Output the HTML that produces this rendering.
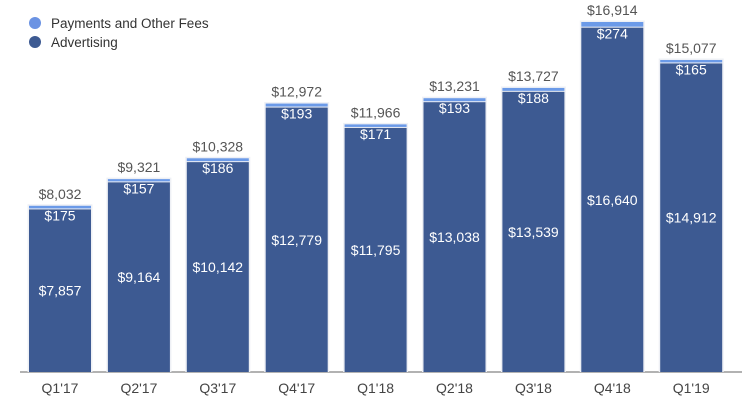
<!DOCTYPE html>
<html><head><meta charset="utf-8"><style>
body{margin:0;background:#fff;}
svg text{font-family:"Liberation Sans",Arial,sans-serif;}
</style></head><body>
<svg id="c" width="754" height="409" xmlns="http://www.w3.org/2000/svg">
<g>
<circle cx="35" cy="23" r="6" fill="#6b93e3"/>
<text x="51" y="28" font-size="13.5" fill="#333">Payments and Other Fees</text>
<circle cx="35" cy="42" r="6" fill="#3d5a92"/>
<text x="51" y="47" font-size="13.5" fill="#333">Advertising</text>
</g>
<line x1="20" y1="372" x2="742" y2="372" stroke="#666" stroke-width="1"/>
<g id="bars"></g>
</svg>
<script>
const categories=["Q1'17","Q2'17","Q3'17","Q4'17","Q1'18","Q2'18","Q3'18","Q4'18","Q1'19"];
const advertising=[7857,9164,10142,12779,11795,13038,13539,16640,14912];
const payments=[175,157,186,193,171,193,188,274,165];
const totals=[8032,9321,10328,12972,11966,13231,13727,16914,15077];
const base=372, scale=350/16914, x0=29, step=78.9, bw=62;
const y=v=>base-v*scale;
const fmt=v=>'$'+v.toLocaleString('en-US');
const g=document.getElementById('bars');
const NS='http://www.w3.org/2000/svg';
function mk(tag,attrs,txt){const e=document.createElementNS(NS,tag);for(const k in attrs)e.setAttribute(k,attrs[k]);if(txt!==undefined)e.textContent=txt;g.appendChild(e);return e;}
categories.forEach((c,i)=>{
  const x=x0+i*step, cx=x+bw/2;
  const at=y(advertising[i]), tt=y(advertising[i]+payments[i]);
  const bg=mk('rect',{x:x-1.5,y:tt-1.5,width:bw+3,height:base-tt+1.5,fill:'#eef0f5'});
  
  
  const a=mk('rect',{x:x,y:at,width:bw,height:base-at,fill:'#3d5a92'});
  
  
  const p=mk('rect',{x:x,y:tt,width:bw,height:Math.max(2,at-tt-1),fill:'#6b9ae8'});
  
  
  const t1=mk('text',{x:cx,y:tt-7,'text-anchor':'middle','font-size':14,fill:'#555'},fmt(totals[i]));
  
  
  const t2=mk('text',{x:cx,y:at+11,'text-anchor':'middle','font-size':14,fill:'#fff'},fmt(payments[i]));
  
  
  const t3=mk('text',{x:cx,y:(at+base)/2+5,'text-anchor':'middle','font-size':14,fill:'#fff'},fmt(advertising[i]));
  
  
  const t4=mk('text',{x:cx,y:393,'text-anchor':'middle','font-size':14,fill:'#444'},c);
  
  
});
</script>
</body></html>
